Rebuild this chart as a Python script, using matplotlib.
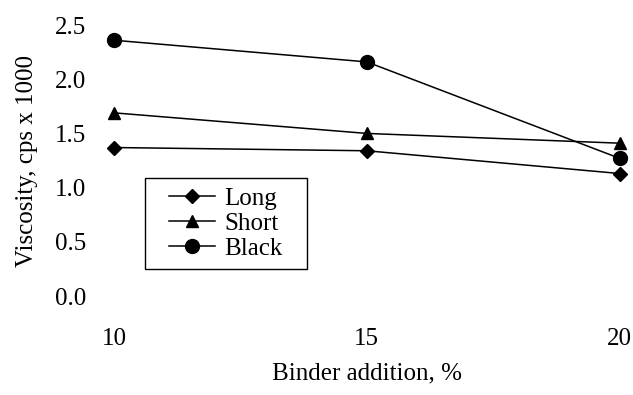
from matplotlib import pyplot
from matplotlib.patches import Rectangle

binder = [10, 15, 20]
long_fibre = [1.37, 1.34, 1.13]
short_fibre = [1.69, 1.50, 1.41]
black = [2.36, 2.16, 1.27]

x_ticks = [10, 15, 20]
y_ticks = [0.0, 0.5, 1.0, 1.5, 2.0, 2.5]


def main() -> None:
    pyplot.rcParams["font.family"] = ["Liberation Serif", "DejaVu Serif"]
    pyplot.rcParams["font.size"] = 18

    figure = pyplot.figure(figsize=(6.33, 3.95), dpi=100)
    axes = figure.add_axes([0.18, 0.2506, 0.799, 0.686])

    axes.plot(binder, long_fibre, color="black", linewidth=1.1, marker="D",
              markersize=7.5, label="Long", clip_on=False)
    axes.plot(binder, short_fibre, color="black", linewidth=1.1, marker="^",
              markersize=9, label="Short", clip_on=False)
    axes.plot(binder, black, color="black", linewidth=1.1, marker="o",
              markersize=10, label="Black", clip_on=False)

    axes.set_xlim(10, 20)
    axes.set_ylim(0, 2.5)
    axes.set_xticks(x_ticks)
    axes.set_xticklabels([str(v) for v in x_ticks])
    axes.set_yticks(y_ticks)
    axes.set_yticklabels([f"{v:.1f}" for v in y_ticks])
    axes.tick_params(axis="x", length=0, pad=23)
    axes.tick_params(axis="y", length=0, pad=20)
    for spine in axes.spines.values():
        spine.set_visible(False)

    axes.set_xlabel("Binder addition, %", labelpad=9)
    axes.set_ylabel("Viscosity, cps x 1000", labelpad=12)

    # legend box is wider than the text needs, so draw the frame by hand
    axes.legend(loc="center", bbox_to_anchor=(0.221, 0.2675),
                frameon=False, handlelength=1.85, labelspacing=0.1,
                handletextpad=0.36, borderpad=0)
    axes.add_patch(Rectangle((0.061, 0.0996), 0.32, 0.3354,
                             transform=axes.transAxes, fill=False,
                             edgecolor="black", linewidth=1.0, clip_on=False))

    figure.savefig("out.png", dpi=100)


if __name__ == "__main__":
    main()
